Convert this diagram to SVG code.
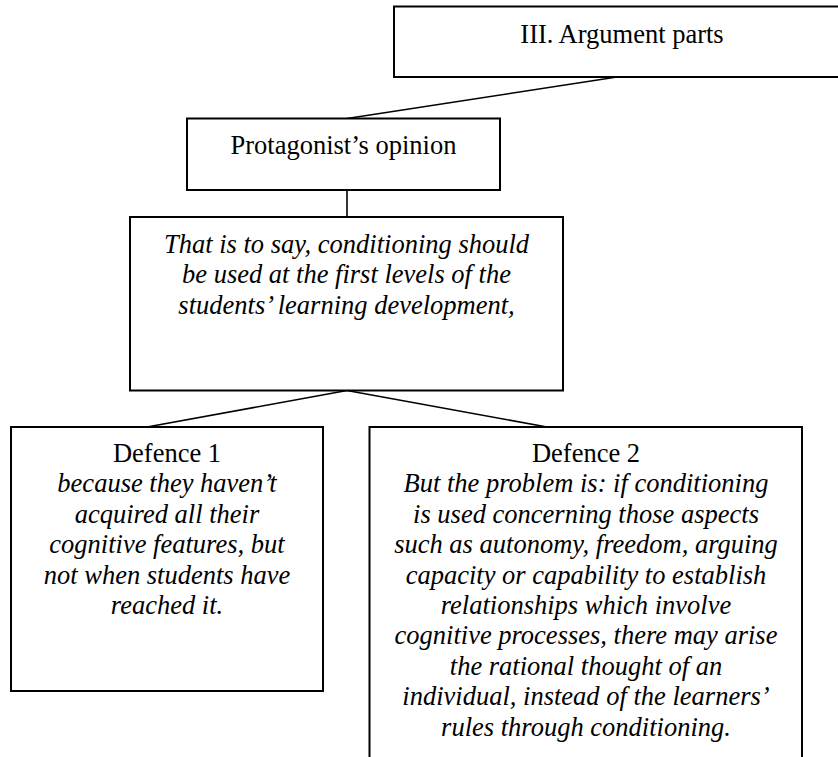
<svg xmlns="http://www.w3.org/2000/svg" width="838" height="757" viewBox="0 0 838 757">
  <style>
    .box { fill: #ffffff; stroke: #000000; stroke-width: 2; }
    .link { stroke: #000000; stroke-width: 1.6; fill: none; }
    text { font-family: "Liberation Serif", "Times New Roman", serif; font-size: 26.5px; fill: #000000; text-anchor: middle; }
    .it { font-style: italic; }
  </style>
  <rect x="0" y="0" width="838" height="757" fill="#ffffff"/>

  <!-- connectors -->
  <g id="connectors">
    <line class="link" x1="617" y1="77" x2="347" y2="118.5"/>
    <line class="link" x1="347" y1="190" x2="347" y2="217"/>
    <line class="link" x1="347" y1="390.5" x2="147" y2="427"/>
    <line class="link" x1="347" y1="390.5" x2="547" y2="427"/>
  </g>

  <!-- heading box, runs past the right edge -->
  <g id="argument-parts">
    <rect class="box" x="394" y="6.5" width="460" height="70.5"/>
    <text x="622" y="43">III. Argument parts</text>
  </g>

  <g id="protagonist">
    <rect class="box" x="187" y="118.5" width="313" height="71.5"/>
    <text x="343.5" y="154">Protagonist’s opinion</text>
  </g>

  <g id="opinion">
    <rect class="box" x="130" y="217" width="433" height="173.5"/>
    <text class="it" x="346.5" y="253">That is to say, conditioning should</text>
    <text class="it" x="346.5" y="283.4">be used at the first levels of the</text>
    <text class="it" x="346.5" y="313.8">students’ learning development,</text>
  </g>

  <g id="defence-1">
    <rect class="box" x="11" y="427" width="312" height="264"/>
    <text x="167" y="462">Defence 1</text>
    <text class="it" x="167" y="492.4">because they haven’t</text>
    <text class="it" x="167" y="522.8">acquired all their</text>
    <text class="it" x="167" y="553.2">cognitive features, but</text>
    <text class="it" x="167" y="583.6">not when students have</text>
    <text class="it" x="167" y="614">reached it.</text>
  </g>

  <!-- second defence box continues below the bottom edge -->
  <g id="defence-2">
    <rect class="box" x="369.5" y="427" width="432.5" height="350"/>
    <text x="586" y="462">Defence 2</text>
    <text class="it" x="586" y="492.4">But the problem is: if conditioning</text>
    <text class="it" x="586" y="522.8">is used concerning those aspects</text>
    <text class="it" x="586" y="553.2">such as autonomy, freedom, arguing</text>
    <text class="it" x="586" y="583.6">capacity or capability to establish</text>
    <text class="it" x="586" y="614">relationships which involve</text>
    <text class="it" x="586" y="644.4">cognitive processes, there may arise</text>
    <text class="it" x="586" y="674.8">the rational thought of an</text>
    <text class="it" x="586" y="705.2">individual, instead of the learners’</text>
    <text class="it" x="586" y="735.6">rules through conditioning.</text>
  </g>
</svg>
